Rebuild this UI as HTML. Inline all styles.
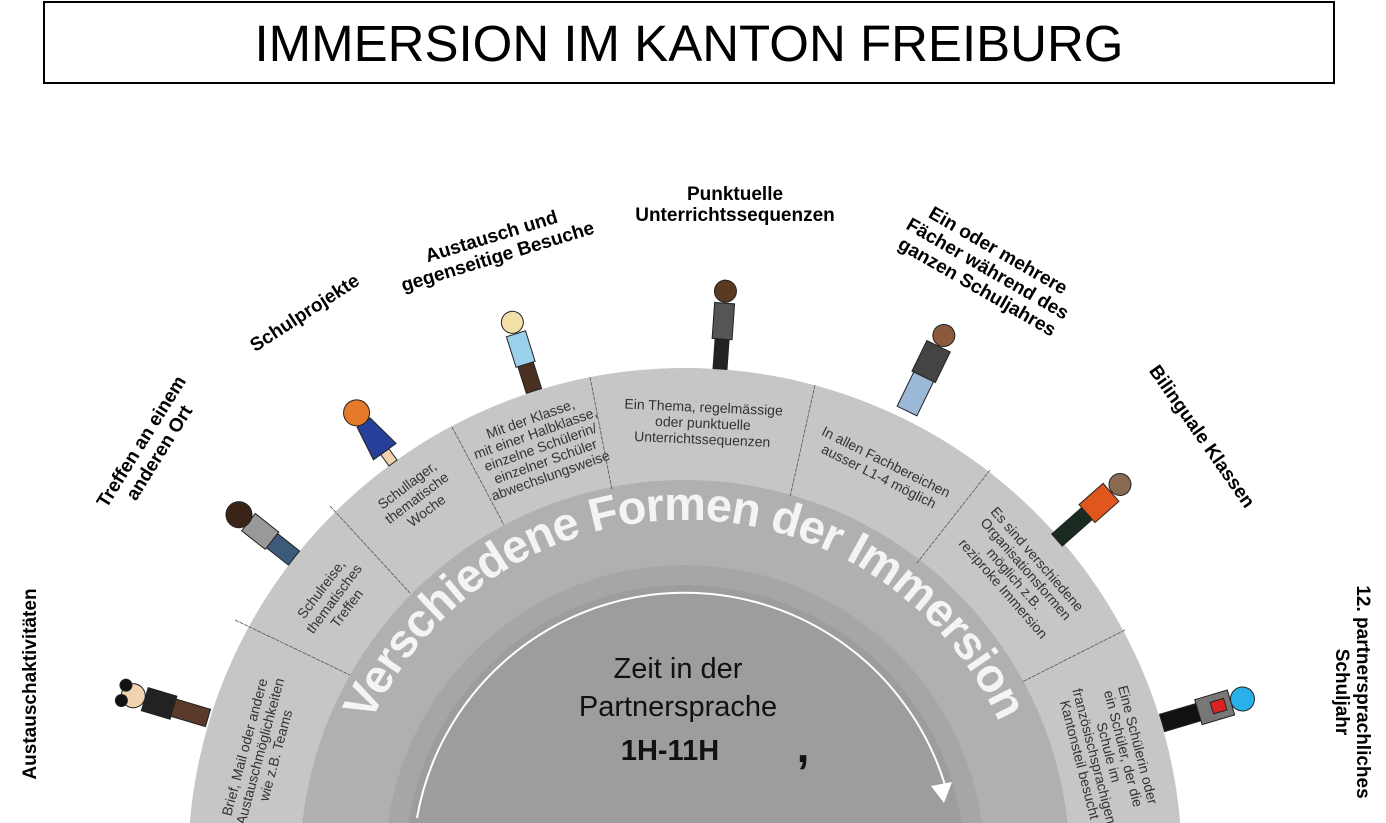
<!DOCTYPE html>
<html><head><meta charset="utf-8"><style>
html,body{margin:0;padding:0;background:#fff;overflow:hidden;width:1386px;height:823px;}
svg{display:block;}
.seg{font-family:"Liberation Sans",sans-serif;font-size:14px;fill:#333;text-anchor:middle;}
.lab{font-family:"Liberation Sans",sans-serif;font-size:19px;font-weight:bold;fill:#000;text-anchor:middle;}
</style></head><body>
<svg width="1386" height="823" viewBox="0 0 1386 823" xmlns="http://www.w3.org/2000/svg">
<defs>
<clipPath id="c"><rect x="0" y="0" width="1386" height="823"/></clipPath>
<path id="tp" d="M347.5,793.3 A345,345 0 0 1 1022.5,793.3"/>
</defs>
<rect x="44" y="2" width="1290" height="81" fill="#fff" stroke="#000" stroke-width="2"/>
<text x="689" y="61" text-anchor="middle" font-family="Liberation Sans,sans-serif" font-size="51" fill="#000">IMMERSION IM KANTON FREIBURG</text>

<g clip-path="url(#c)">
<circle cx="685" cy="865" r="497" fill="#c6c6c6"/>
<circle cx="685" cy="865" r="385" fill="#b0b0b0"/>
<circle cx="685" cy="865" r="300" fill="#a6a6a6"/>
<circle cx="685" cy="865" r="280" fill="#9d9d9d"/>
</g>
<g stroke="#555" stroke-width="0.8" stroke-dasharray="4,1">
<line x1="235" y1="620" x2="350" y2="675"/>
<line x1="330" y1="506" x2="410" y2="593"/>
<line x1="452" y1="427" x2="504" y2="525"/>
<line x1="590" y1="377" x2="612" y2="490"/>
<line x1="815" y1="385" x2="790" y2="497"/>
<line x1="990" y1="470" x2="917" y2="563"/>
<line x1="1125" y1="630" x2="1022" y2="682"/>
</g>
<g class="seg">
<g transform="translate(259,751) rotate(-75)"><text y="-10">Brief, Mail oder andere</text><text y="6">Austauschmöglichkeiten</text><text y="22">wie z.B. Teams</text></g>
<g transform="translate(333,598) rotate(-53)"><text y="-10">Schulreise,</text><text y="6">thematisches</text><text y="22">Treffen</text></g>
<g transform="translate(416,497) rotate(-37)"><text y="-10">Schullager,</text><text y="6">thematische</text><text y="22">Woche</text></g>
<g transform="translate(540,446) rotate(-19.5)"><text y="-24">Mit der Klasse,</text><text y="-9">mit einer Halbklasse,</text><text y="6">einzelne Schülerin/</text><text y="21">einzelner Schüler</text><text y="36">abwechslungsweise</text></g>
<g transform="translate(703,422) rotate(2.5)"><text y="-10">Ein Thema, regelmässige</text><text y="6">oder punktuelle</text><text y="22">Unterrichtssequenzen</text></g>
<g transform="translate(883,468) rotate(26.6)"><text y="-2">In allen Fachbereichen</text><text y="14">ausser L1-4 möglich</text></g>
<g transform="translate(1020,574) rotate(49)"><text y="-18">Es sind verschiedene</text><text y="-3">Organisationsformen</text><text y="12">möglich z.B.</text><text y="27">reziproke Immersion</text></g>
<g transform="translate(1110,752) rotate(75.5)"><text y="-24">Eine Schülerin oder</text><text y="-9">ein Schüler, der die</text><text y="6">Schule im</text><text y="21">französischsprachigen</text><text y="36">Kantonsteil besucht</text></g>
</g>
<text font-family="Liberation Sans,sans-serif" font-weight="bold" font-size="47" fill="#f4f4f4"><textPath href="#tp" startOffset="50%" text-anchor="middle" textLength="790" lengthAdjust="spacing">Verschiedene Formen der Immersion</textPath></text>
<path d="M417,818 A272,272 0 0 1 945,785" fill="none" stroke="#fff" stroke-width="2"/>
<polygon points="931,786 952,782 944,803" fill="#fff"/>
<g font-family="Liberation Sans,sans-serif" text-anchor="middle" fill="#111">
<text x="678" y="678" font-size="29">Zeit in der</text>
<text x="678" y="716" font-size="29">Partnersprache</text>
<text x="670" y="760" font-size="29" font-weight="bold">1H-11H</text>
<text x="803" y="762" font-size="46" font-weight="bold">,</text>
</g>
<g class="lab">
<g transform="translate(36,684) rotate(-90)"><text>Austauschaktivitäten</text></g>
<g transform="translate(150,447) rotate(-58)"><text y="-4">Treffen an einem</text><text y="17">anderen Ort</text></g>
<g transform="translate(308,318) rotate(-33)"><text>Schulprojekte</text></g>
<g transform="translate(495,248) rotate(-17)"><text y="-6">Austausch und</text><text y="15">gegenseitige Besuche</text></g>
<g transform="translate(735,205)"><text y="-5">Punktuelle</text><text y="16">Unterrichtssequenzen</text></g>
<g transform="translate(988,268) rotate(30)"><text y="-14">Ein oder mehrere</text><text y="7">Fächer während des</text><text y="28">ganzen Schuljahres</text></g>
<g transform="translate(1197,440) rotate(55)"><text>Bilinguale Klassen</text></g>
<g transform="translate(1352,692) rotate(90)"><text y="-5">12. partnersprachliches</text><text y="16">Schuljahr</text></g>
</g>
<g stroke="#222" stroke-width="1">
<g transform="translate(208,718) rotate(-73.4)"><rect x="-9" y="-38" width="18" height="38" fill="#5a3a2a"/><rect x="-12" y="-66" width="24" height="30" fill="#222"/><circle cx="0" cy="-78" r="12" fill="#f1d3b0"/><circle cx="-8" cy="-88" r="6" fill="#111"/><circle cx="8" cy="-88" r="6" fill="#111"/></g>
<g transform="translate(294,558) rotate(-51.8)"><rect x="-9" y="-30" width="18" height="30" fill="#3d5a7a"/><rect x="-11" y="-58" width="22" height="30" fill="#999"/><circle cx="0" cy="-70" r="13" fill="#3a2418"/></g>
<g transform="translate(393,463) rotate(-36)"><rect x="-5" y="-14" width="10" height="14" fill="#f1d3b0"/><polygon points="-14,-14 14,-14 8,-50 -8,-50" fill="#27409a"/><circle cx="0" cy="-62" r="13" fill="#e47a2a"/></g>
<g transform="translate(534,391) rotate(-17.5)"><rect x="-8" y="-30" width="16" height="30" fill="#4a3020"/><rect x="-10" y="-60" width="20" height="32" fill="#9ad0ea"/><circle cx="0" cy="-72" r="11" fill="#f3dfa8"/></g>
<g transform="translate(720,369) rotate(4)"><rect x="-7" y="-32" width="14" height="32" fill="#222"/><rect x="-10" y="-66" width="20" height="36" fill="#555"/><circle cx="0" cy="-78" r="11" fill="#5a3a22"/></g>
<g transform="translate(907,411) rotate(26)"><rect x="-11" y="-40" width="22" height="40" fill="#9ab9d6"/><rect x="-13" y="-72" width="26" height="34" fill="#444"/><circle cx="0" cy="-84" r="11" fill="#8a5a3a"/></g>
<g transform="translate(1057,540) rotate(48.6)"><rect x="-8" y="-42" width="16" height="42" fill="#1a2a20"/><rect x="-12" y="-72" width="24" height="32" fill="#e0561c"/><circle cx="0" cy="-84" r="11" fill="#8a6a50"/></g>
<g transform="translate(1162,723) rotate(73.4)"><rect x="-9" y="-40" width="18" height="40" fill="#111"/><rect x="-13" y="-72" width="26" height="34" fill="#777"/><rect x="-6" y="-66" width="12" height="14" fill="#d22"/><circle cx="0" cy="-84" r="12" fill="#2ab0e8"/></g>
</g>
</svg>
</body></html>
